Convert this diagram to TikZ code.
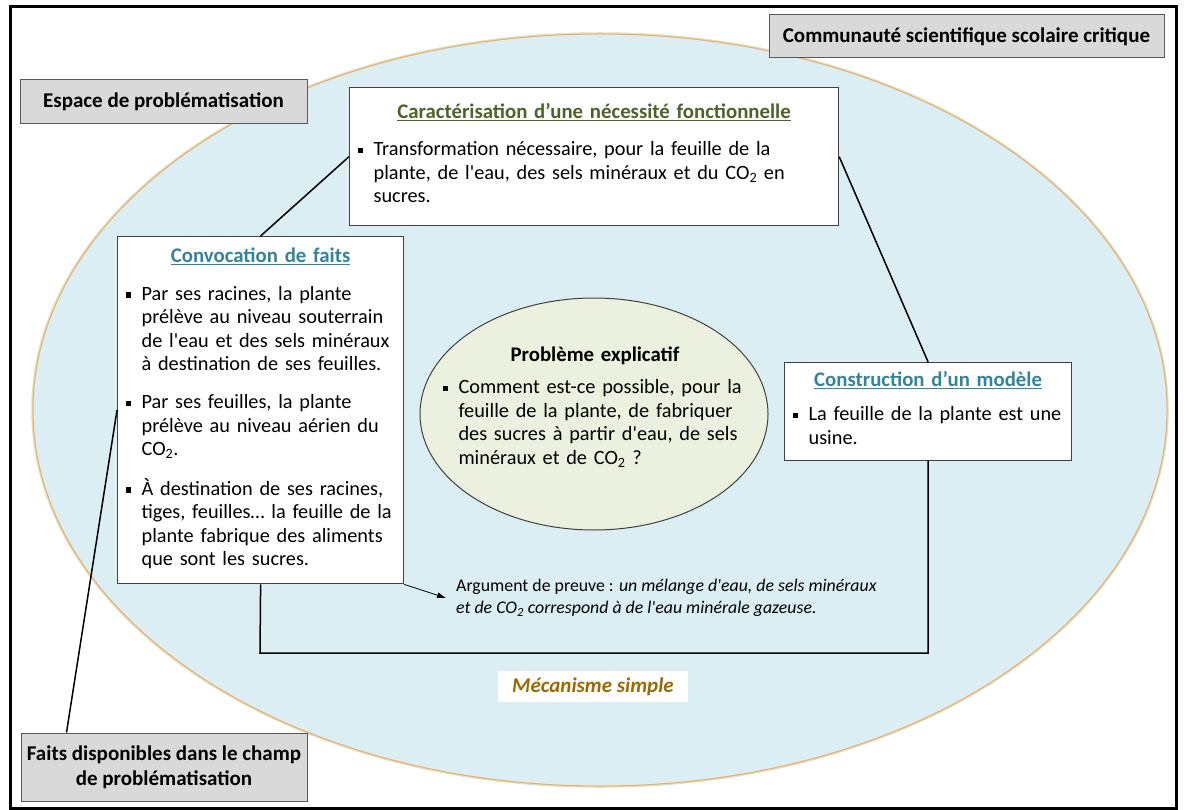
\documentclass[tikz,border=0pt]{standalone}
\usepackage{fontspec}
\usepackage{xcolor}
\usepackage{tikz}
\usetikzlibrary{arrows.meta,shapes.geometric}

\newfontfamily\calibri{Carlito}

\definecolor{bleuclair}{HTML}{DAEEF3}
\definecolor{grisboite}{HTML}{D9D9D9}
\definecolor{vertpale}{HTML}{EBF1DE}
\definecolor{olive}{HTML}{4F6228}
\definecolor{sarcelle}{HTML}{31849B}
\definecolor{orangebord}{HTML}{F4A870}
\definecolor{vertlueur}{HTML}{D7E4BD}
\definecolor{ocre}{HTML}{9C6A00}

% titre souligne et puce carree
\newcommand{\titre}[2]{{\centering\bfseries\fontsize{20.8}{23.5}\selectfont\color{#1}\underline{#2}\par}}
\newcommand{\puce}[2]{\par\vspace{#1pt}\noindent\makebox[16pt][l]{\rule[2.5pt]{5.5pt}{5.5pt}}\parbox[t]{\linewidth}{\raggedright #2\strut}\par\prevdepth=\dp\strutbox}
\newcommand{\fond}[1]{\rule[-#1pt]{0pt}{#1pt}}

\begin{document}
\begin{tikzpicture}[x=1pt, y=-1pt,
    txt/.style={font=\calibri\fontsize{20.3}{23.5}\selectfont},
    boite/.style={txt, draw=black!75, line width=1.2pt, fill=white, anchor=north west, inner xsep=8pt},
    etiquette/.style={font=\calibri\bfseries\fontsize{21}{25}\selectfont, draw=black!65, line width=1pt, fill=grisboite, align=center},
    lien/.style={line width=1.5pt}]

    \useasboundingbox (0,0) rectangle (1185,810);
    \fill[white] (0,0) rectangle (1185,810);

    % cadre et grande ellipse
    \draw[line width=3pt] (10,7) rectangle (1176,808);
    \draw[vertlueur, line width=3.5pt] (600,410) ellipse [x radius=567, y radius=376];
    \filldraw[fill=bleuclair, draw=orangebord, line width=1pt] (600,410) ellipse [x radius=567, y radius=376];

    % etiquettes grises
    \node[etiquette, minimum width=287pt, minimum height=44pt] (espace) at (163.5,102) {Espace de problématisation};
    \node[etiquette, minimum width=395pt, minimum height=43pt] (communaute) at (966.5,36.5) {Communauté scientifique scolaire critique};
    \node[etiquette, minimum width=286pt, minimum height=68pt] (faits) at (164,767) {Faits disponibles dans le champ\\de problématisation};

    % boites
    \node[boite, text width=473pt, inner ysep=16pt] (caract) at (349,87) {%
        \titre{olive}{Caractérisation d’une nécessité fonctionnelle}
        \puce{13.5}{Transformation nécessaire, pour la feuille de la\\plante, de l'eau, des sels minéraux et du CO\textsubscript{2} en\\sucres.}};

    \node[boite, text width=270pt, inner ysep=11pt] (convoc) at (117,236) {%
        \titre{sarcelle}{Convocation de faits}
        \puce{14.5}{Par ses racines, la plante\\prélève au niveau souterrain\\de l'eau et des sels minéraux\\à destination de ses feuilles.}
        \puce{14.5}{Par ses feuilles, la plante\\prélève au niveau aérien du\\CO\textsubscript{2}.}
        \puce{14.5}{À destination de ses racines,\\tiges, feuilles… la feuille de la\\plante fabrique des aliments\\que sont les sucres.}};

    \node[boite, text width=271pt, inner ysep=9pt] (construc) at (784,362) {%
        \titre{sarcelle}{Construction d’un modèle}
        \puce{10.5}{La feuille de la plante est une\\usine.}};

    % probleme explicatif
    \node[ellipse, draw=black!75, line width=1pt, fill=vertpale, minimum width=348pt, minimum height=232pt] (pb) at (594,414) {};
    \node[txt, text width=305pt, anchor=north] (pbtexte) at (595,343) {%
        {\centering\bfseries\fontsize{20.8}{23.5}\selectfont Problème explicatif\par}
        \puce{9}{Comment est-ce possible, pour la\\feuille de la plante, de fabriquer\\des sucres à partir d'eau, de sels\\minéraux et de CO\textsubscript{2} ?}};

    % argument et mecanisme
    \node[font=\calibri\fontsize{17.8}{22}\selectfont, align=left, anchor=west, inner xsep=10pt] (argument) at (446,598)
        {Argument de preuve : \textit{un mélange d'eau, de sels minéraux}\\\textit{et de CO\textsubscript{2} correspond à de l'eau minérale gazeuse.}};
    \node[font=\calibri\bfseries\itshape\fontsize{21}{25}\selectfont, text=ocre, fill=white, minimum width=190pt, minimum height=31pt] (mecanisme) at (593,686.5) {Mécanisme simple};

    % liens
    \coordinate (boucle) at (260,653);
    \draw[lien] (convoc.north) -- (caract.west);
    \draw[lien] (caract.east) -- (construc.north);
    \draw[lien] (construc.south) |- (boucle) -- (convoc.south);
    \draw[line width=0.8pt, -{Latex[length=9pt,width=6pt]}] (convoc.south east) -- (argument.west);
    \draw[lien] ([xshift=46pt]faits.north west) -- (convoc.west);
\end{tikzpicture}
\end{document}
